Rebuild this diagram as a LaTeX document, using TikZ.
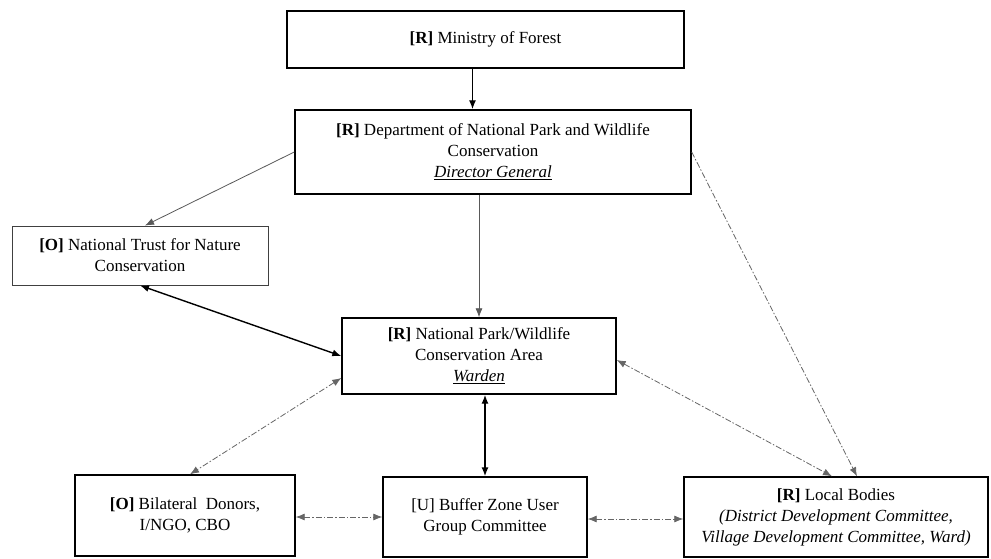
\documentclass[tikz,border=0pt]{standalone}
\usepackage{fontspec}
\setmainfont{Liberation Serif}
\usetikzlibrary{arrows.meta}
\tikzset{
  box/.style={draw=black, line width=1.4pt, fill=white, inner sep=0pt, align=center,
    font=\fontsize{17}{21}\selectfont},
  tip/.style={Latex[length=9pt,width=7pt]},
  mainlink/.style={line width=1.4pt, black, {Latex[length=9pt,width=7pt]}-{Latex[length=9pt,width=7pt]}},
  thinlink/.style={line width=0.8pt, black!65, -{Latex[length=9pt,width=7pt]}},
  dotlink/.style={line width=0.8pt, black!60, dash pattern=on 6pt off 2pt on 1.5pt off 2pt,
    {Latex[length=9pt,width=7pt]}-{Latex[length=9pt,width=7pt]}}
}
\begin{document}
\begin{tikzpicture}[x=1pt,y=-1pt]
			%%%%% START %%%%%
			\useasboundingbox[fill=white] (0,0) rectangle (991,559);
			
			\node[box, minimum width=397pt, minimum height=57pt] (ministry) at (485.5, 39.5) {\textbf{[R]} Ministry of Forest};
			\node[box, minimum width=396pt, minimum height=84pt] (dnpwc) at (493, 152) {\textbf{[R]} Department of National Park and Wildlife\\Conservation\\\underline{\textit{Director General}}};
			\node[box, draw=black!75, line width=0.9pt, minimum width=256pt, minimum height=59pt] (ntnc) at (140, 255.5) {\textbf{[O]} National Trust for Nature\\Conservation};
			\node[box, minimum width=274pt, minimum height=76pt] (park) at (479, 356) {\textbf{[R]} National Park/Wildlife\\Conservation Area\\\underline{\textit{Warden}}};
			
			\node[box, minimum width=220pt, minimum height=81pt] (donors) at (185, 515.5) {\textbf{[O]} Bilateral~ Donors,\\I/NGO, CBO};
			\node[box, minimum width=204pt, minimum height=80pt] (bzugc) at (485, 517) {[U] Buffer Zone User\\Group Committee};
			\node[box, minimum width=304pt, minimum height=80pt] (local) at (836, 517) {\textbf{[R]} Local Bodies\\\textit{(District Development Committee,}\\\textit{Village Development Committee, Ward)}};
			
			\draw[line width=1.4pt, -{Latex[length=9pt,width=7pt]}] ([xshift=-13pt]ministry.south) -- ([xshift=-13pt]ministry.south |- dnpwc.north);
			\draw[thinlink] (dnpwc.west) -- ([xshift=5pt]ntnc.north);
			\draw[thinlink] (park.north |- dnpwc.south) -- (park.north);
			\draw[mainlink] (ntnc.south) -- (park.west);
			\draw[mainlink] (bzugc.north |- park.south) -- (bzugc.north);
			
			\draw[dotlink] ([yshift=-22pt]park.west) -- ([xshift=5pt]donors.north);
			\draw[dotlink] (donors.east |- bzugc.west) -- (bzugc.west);
			\draw[dotlink] ([yshift=-2pt]bzugc.east) -- ([yshift=-2pt]bzugc.east -| local.west);
			\draw[dotlink] ([yshift=-4pt]park.east) -- ([xshift=-4pt]local.north);
			\draw[line width=0.8pt, black!60, dash pattern=on 6pt off 2pt on 1.5pt off 2pt, -{Latex[length=9pt,width=7pt]}] (dnpwc.east) -- ([xshift=21pt]local.north);
			
			%%%%% END %%%%%
\end{tikzpicture}
\end{document}
